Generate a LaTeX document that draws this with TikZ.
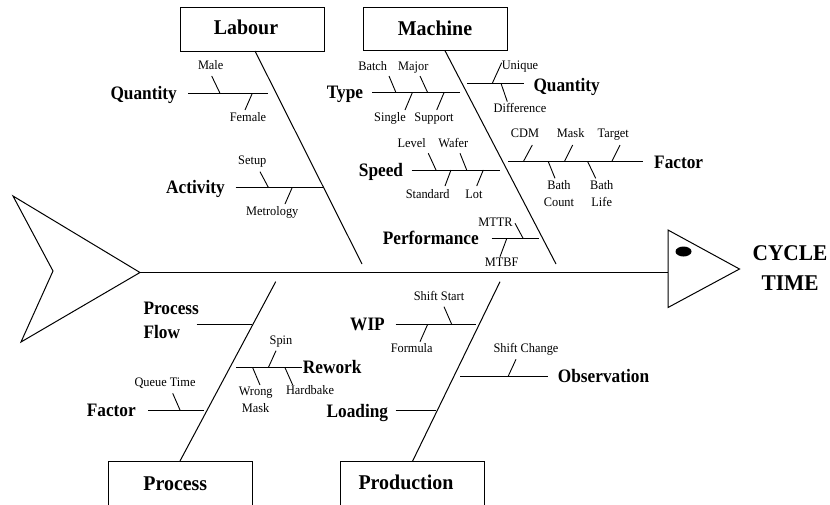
\documentclass[tikz,border=0pt]{standalone}
\usepackage{fontspec}
\setmainfont{Liberation Serif}
\newfontfamily\labfont[FakeStretch=0.91]{Liberation Serif}
\newfontfamily\ttlfont[FakeStretch=0.95]{Liberation Serif}
\newfontfamily\smfont[FakeStretch=0.95]{Liberation Serif}
\newfontfamily\headfont[FakeStretch=0.95]{Liberation Serif}

\tikzset{
  bone/.style={line width=1pt},
  spine/.style={line width=1.3pt},
  twig/.style={line width=0.9pt},
  catbox/.style={draw, line width=1pt, inner sep=0pt},
  ttl/.style={font={\ttlfont\bfseries\fontsize{21}{24}\selectfont}, inner sep=0pt, text height=13.9pt, text depth=0pt},
  lab/.style={font={\labfont\bfseries\fontsize{19}{24}\selectfont}, inner sep=0pt, text height=12.5pt, text depth=0pt},
  labtwo/.style={font={\labfont\bfseries\fontsize{19}{24}\selectfont}, inner sep=0pt, align=left},
  sm/.style={font={\smfont\fontsize{13}{17}\selectfont}, inner sep=0pt, text height=8.6pt, text depth=0pt},
  smtwo/.style={font={\smfont\fontsize{13}{17}\selectfont}, inner sep=0pt, align=center},
  head/.style={font={\headfont\bfseries\fontsize{22.5}{30}\selectfont}, inner sep=0pt, align=center}
}

\begin{document}
\begin{tikzpicture}[x=1pt,y=-1pt]
\clip (0,0) rectangle (830,504);

% ---------- spine, tail and head ----------
\coordinate (tailA) at (13,196);
\coordinate (tailTip) at (140,272.5);
\coordinate (tailB) at (21,342);
\coordinate (tailNotch) at (53,271);
\draw[bone, line join=miter] (tailA) -- (tailTip) -- (tailB) -- (tailNotch) -- cycle;

\coordinate (headL) at (668,272.5);
\coordinate (headTop) at (668,230);
\coordinate (headBot) at (668,307.5);
\coordinate (headTip) at (739.5,269);
\draw[spine] (tailTip) -- (headL);
\draw[bone, line join=miter] (headTop) -- (headTip) -- (headBot) -- cycle;
\fill (683.5,251.5) ellipse [x radius=8, y radius=5];
\node[head] (effect) at (790,268) {CYCLE\\TIME};

% ---------- category boxes ----------
\node[catbox, minimum width=144pt, minimum height=44pt] (labourBox) at (252,29) {};
\node[ttl] (labour) at (246,27.5) {Labour};
\node[catbox, minimum width=144.4pt, minimum height=43.4pt] (machineBox) at (435.5,29) {};
\node[ttl] (machine) at (435,28.3) {Machine};
\node[catbox, minimum width=144pt, minimum height=44pt] (processBox) at (180.3,483) {};
\node[ttl] (process) at (175.3,483.3) {Process};
\node[catbox, minimum width=144pt, minimum height=44pt] (productionBox) at (412,483.7) {};
\node[ttl] (production) at (406,482.5) {Production};

% ---------- main bones ----------
\coordinate (lbTop) at (255,51);      \coordinate (lbEnd) at (362,264);
\coordinate (mbTop) at (445,50.7);    \coordinate (mbEnd) at (556,264);
\coordinate (pbBot) at (180,461);     \coordinate (pbEnd) at (275.7,281.7);
\coordinate (dbBot) at (412.3,461.7); \coordinate (dbEnd) at (500,281.7);
\draw[bone] (lbTop) -- (lbEnd);
\draw[bone] (mbTop) -- (mbEnd);
\draw[bone] (pbBot) -- (pbEnd);
\draw[bone] (dbBot) -- (dbEnd);

% ---------- Labour ----------
\node[lab, anchor=east] (lqty) at (177,93.3) {Quantity};
\coordinate (lqA) at (188.3,93.3); \coordinate (lqB) at (268.3,93.3);
\draw[bone] (lqA) -- (lqB);
\coordinate (maleA) at (220,93.3); \coordinate (maleB) at (211.7,76);
\draw[twig] (maleA) -- (maleB);
\node[sm] (male) at (210.7,65.5) {Male};
\coordinate (femA) at (252.3,93.3); \coordinate (femB) at (245,110);
\draw[twig] (femA) -- (femB);
\node[sm] (female) at (248,117.3) {Female};

\node[lab, anchor=east] (activity) at (225,187.3) {Activity};
\coordinate (actA) at (235.7,187.3); \coordinate (actB) at (323.3,187.3);
\draw[bone] (actA) -- (actB);
\coordinate (setA) at (268.3,187.3); \coordinate (setB) at (260,171.7);
\draw[twig] (setA) -- (setB);
\node[sm] (setup) at (252.3,160) {Setup};
\coordinate (metA) at (292.3,187.3); \coordinate (metB) at (285,204);
\draw[twig] (metA) -- (metB);
\node[sm] (metrology) at (272.3,210.7) {Metrology};

% ---------- Machine ----------
\node[lab, anchor=east] (type) at (363.3,92.7) {Type};
\coordinate (tyA) at (372.3,92.7); \coordinate (tyB) at (460,92.7);
\draw[bone] (tyA) -- (tyB);
\coordinate (batA) at (396,92.7); \coordinate (batB) at (389,76);
\draw[twig] (batA) -- (batB);
\node[sm] (batch) at (372.7,65.7) {Batch};
\coordinate (majA) at (427.7,92.7); \coordinate (majB) at (420,76);
\draw[twig] (majA) -- (majB);
\node[sm] (major) at (413.3,65.7) {Major};
\coordinate (sinA) at (412.3,92.7); \coordinate (sinB) at (405,110);
\draw[twig] (sinA) -- (sinB);
\node[sm] (single) at (390,117.3) {Single};
\coordinate (supA) at (444,92.7); \coordinate (supB) at (436.7,110);
\draw[twig] (supA) -- (supB);
\node[sm] (support) at (434,117.3) {Support};

\node[lab, anchor=west] (mqty) at (533.3,85) {Quantity};
\coordinate (mqA) at (467.3,83.3); \coordinate (mqB) at (524,83.3);
\draw[bone] (mqA) -- (mqB);
\coordinate (uniA) at (492.3,83.3); \coordinate (uniB) at (501.7,62.7);
\draw[twig] (uniA) -- (uniB);
\node[sm] (unique) at (520,65.5) {Unique};
\coordinate (difA) at (501,83.3); \coordinate (difB) at (507.3,101.7);
\draw[twig] (difA) -- (difB);
\node[sm] (difference) at (520,108.3) {Difference};

\node[lab, anchor=west] (mfactor) at (654,162.5) {Factor};
\coordinate (mfA) at (508.3,161.7); \coordinate (mfB) at (643.3,161.7);
\draw[bone] (mfA) -- (mfB);
\coordinate (cdmA) at (523.3,161.7); \coordinate (cdmB) at (532.3,145);
\draw[twig] (cdmA) -- (cdmB);
\node[sm] (cdm) at (525,133.3) {CDM};
\coordinate (mskA) at (564.3,161.7); \coordinate (mskB) at (572.7,145);
\draw[twig] (mskA) -- (mskB);
\node[sm] (mask) at (570.7,133.3) {Mask};
\coordinate (tgtA) at (611.7,161.7); \coordinate (tgtB) at (620,145);
\draw[twig] (tgtA) -- (tgtB);
\node[sm] (target) at (613.3,133.3) {Target};
\coordinate (bcA) at (548.3,161.7); \coordinate (bcB) at (555,178.3);
\draw[twig] (bcA) -- (bcB);
\node[smtwo] (bathcount) at (559,193.5) {Bath\\Count};
\coordinate (blA) at (587.7,161.7); \coordinate (blB) at (595.7,178.3);
\draw[twig] (blA) -- (blB);
\node[smtwo] (bathlife) at (601.7,193.5) {Bath\\Life};

\node[lab, anchor=east] (speed) at (403.3,170) {Speed};
\coordinate (spA) at (411.7,170); \coordinate (spB) at (500,170);
\draw[bone] (spA) -- (spB);
\coordinate (levA) at (436,170); \coordinate (levB) at (428.3,153.3);
\draw[twig] (levA) -- (levB);
\node[sm] (level) at (411.7,142.7) {Level};
\coordinate (wafA) at (466.7,170); \coordinate (wafB) at (460,153.3);
\draw[twig] (wafA) -- (wafB);
\node[sm] (wafer) at (453.3,142.7) {Wafer};
\coordinate (stdA) at (451,170); \coordinate (stdB) at (445,186);
\draw[twig] (stdA) -- (stdB);
\node[sm] (standard) at (427.7,194.3) {Standard};
\coordinate (lotA) at (483.3,170); \coordinate (lotB) at (476.7,186);
\draw[twig] (lotA) -- (lotB);
\node[sm] (lot) at (474,194.3) {Lot};

\node[lab, anchor=east] (performance) at (479,238.5) {Performance};
\coordinate (peA) at (491.7,238.7); \coordinate (peB) at (539.3,238.7);
\draw[bone] (peA) -- (peB);
\coordinate (mttrA) at (523.3,238.7); \coordinate (mttrB) at (515,223.3);
\draw[twig] (mttrA) -- (mttrB);
\node[sm] (mttr) at (495.5,221.7) {MTTR};
\coordinate (mtbfA) at (506.7,238.7); \coordinate (mtbfB) at (500,256.7);
\draw[twig] (mtbfA) -- (mtbfB);
\node[sm] (mtbf) at (501.7,262.3) {MTBF};

% ---------- Process ----------
\node[labtwo, anchor=west] (pflow) at (143.3,320.5) {Process\\Flow};
\coordinate (pfA) at (196.7,324.3); \coordinate (pfB) at (252.3,324.3);
\draw[bone] (pfA) -- (pfB);

\node[lab, anchor=east] (pfactor) at (136,410.5) {Factor};
\coordinate (pfcA) at (148.3,410); \coordinate (pfcB) at (204,410);
\draw[bone] (pfcA) -- (pfcB);
\coordinate (qtA) at (180,410); \coordinate (qtB) at (172.7,393.3);
\draw[twig] (qtA) -- (qtB);
\node[sm] (queue) at (165,382.3) {Queue Time};

\node[lab, anchor=west] (rework) at (302.7,367.7) {Rework};
\coordinate (rwA) at (236,367.7); \coordinate (rwB) at (301.7,367.7);
\draw[bone] (rwA) -- (rwB);
\coordinate (spnA) at (268.3,367.7); \coordinate (spnB) at (276,350.7);
\draw[twig] (spnA) -- (spnB);
\node[sm] (spin) at (281,340) {Spin};
\coordinate (wmA) at (252.7,367.7); \coordinate (wmB) at (260,385);
\draw[twig] (wmA) -- (wmB);
\node[smtwo] (wrongmask) at (255.7,400) {Wrong\\Mask};
\coordinate (hbA) at (285,367.7); \coordinate (hbB) at (292.7,385);
\draw[twig] (hbA) -- (hbB);
\node[sm] (hardbake) at (310,390) {Hardbake};

% ---------- Production ----------
\node[lab, anchor=east] (wip) at (385,324.5) {WIP};
\coordinate (wipA) at (395.7,324.3); \coordinate (wipB) at (476,324.3);
\draw[bone] (wipA) -- (wipB);
\coordinate (ssA) at (451.7,324.3); \coordinate (ssB) at (444,306.7);
\draw[twig] (ssA) -- (ssB);
\node[sm] (shiftstart) at (439,296) {Shift Start};
\coordinate (fmA) at (427.7,324.3); \coordinate (fmB) at (420,341.7);
\draw[twig] (fmA) -- (fmB);
\node[sm] (formula) at (411.7,348.3) {Formula};

\node[lab, anchor=west] (observation) at (557.7,376.3) {Observation};
\coordinate (obA) at (460,376); \coordinate (obB) at (548.3,376);
\draw[bone] (obA) -- (obB);
\coordinate (scA) at (508.3,376); \coordinate (scB) at (516,359.3);
\draw[twig] (scA) -- (scB);
\node[sm] (shiftchange) at (526,348.3) {Shift Change};

\node[lab, anchor=east] (loading) at (388.3,411.5) {Loading};
\coordinate (ldA) at (395.7,410.7); \coordinate (ldB) at (436,410.7);
\draw[bone] (ldA) -- (ldB);
\end{tikzpicture}
\end{document}
